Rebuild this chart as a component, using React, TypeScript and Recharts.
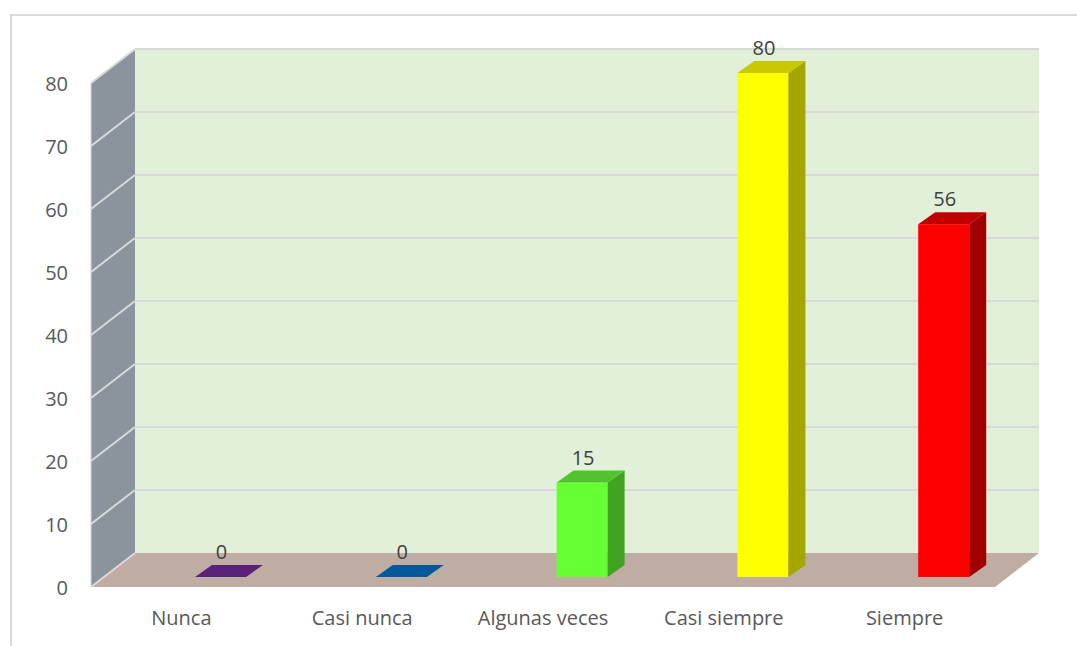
import React from 'react';
import { BarChart, Bar, XAxis, YAxis, ReferenceArea, LabelList } from 'recharts';

const categories = ['Nunca', 'Casi nunca', 'Algunas veces', 'Casi siempre', 'Siempre'];
const values = [0, 0, 15, 80, 56];
const yTicks = [0, 10, 20, 30, 40, 50, 60, 70, 80];
const frontColors = ['#5b2279', '#005a9c', '#66ff33', '#ffff00', '#ff0000'];
const topColors = ['#5b2279', '#005a9c', '#52c42b', '#c8c800', '#c00000'];
const sideColors = ['#4a1b63', '#004a80', '#42a322', '#a6a600', '#a00000'];

const data = categories.map((name, i) => ({ name, value: values[i] }));

const DEPTH_X = 44;
const DEPTH_Y = 34;
const BAR_DX = 39;
const BAR_DY = 10;
const BAR_DEPTH_X = 17;
const BAR_DEPTH_Y = 12;
const FONT = '"Open Sans", "Noto Sans", sans-serif';
const TEXT = '#595959';

const Walls = (props: any) => {
  const { x, y, width, height } = props;
  const b = y + height;
  return (
    <g>
      <rect x={x + DEPTH_X} y={y - DEPTH_Y} width={width} height={height} fill="#e2efd9" />
      <polygon
        points={`${x},${y} ${x + DEPTH_X},${y - DEPTH_Y} ${x + DEPTH_X},${b - DEPTH_Y} ${x},${b}`}
        fill="#8b949c"
      />
      <polygon
        points={`${x},${b} ${x + DEPTH_X},${b - DEPTH_Y} ${x + width + DEPTH_X},${b - DEPTH_Y} ${x + width},${b}`}
        fill="#bfada4"
      />
      <line x1={x} y1={y} x2={x} y2={b} stroke="#d9d9d9" strokeWidth={1} />
    </g>
  );
};

const makeGridLine = (isFloor: boolean) => (props: any) => {
  const { x, y, width } = props;
  return (
    <g>
      {!isFloor && (
        <line x1={x + DEPTH_X} y1={y - DEPTH_Y} x2={x + width + DEPTH_X} y2={y - DEPTH_Y} stroke="#d9d9d9" strokeWidth={2} />
      )}
      <line x1={x} y1={y} x2={x + DEPTH_X} y2={y - DEPTH_Y} stroke="#d9d9d9" strokeWidth={2} />
    </g>
  );
};

const Bar3D = (props: any) => {
  const { x, y, width, height, index } = props;
  const fx = x + BAR_DX;
  const fy = y - BAR_DY;
  const h = Math.max(0, height);
  const w = width;
  return (
    <g>
      {h > 0 && <rect x={fx} y={fy} width={w} height={h} fill={frontColors[index]} />}
      {h > 0 && (
        <polygon
          points={`${fx + w},${fy} ${fx + w + BAR_DEPTH_X},${fy - BAR_DEPTH_Y} ${fx + w + BAR_DEPTH_X},${fy + h - BAR_DEPTH_Y} ${fx + w},${fy + h}`}
          fill={sideColors[index]}
        />
      )}
      <polygon
        points={`${fx},${fy} ${fx + w},${fy} ${fx + w + BAR_DEPTH_X},${fy - BAR_DEPTH_Y} ${fx + BAR_DEPTH_X},${fy - BAR_DEPTH_Y}`}
        fill={topColors[index]}
      />
    </g>
  );
};

const renderLabel = (props: any) => {
  const vb = props.viewBox || {};
  const x = props.x ?? vb.x;
  const y = props.y ?? vb.y;
  const width = props.width ?? vb.width;
  return (
    <text
      x={x + width / 2 + BAR_DX + 1}
      y={y - BAR_DY - 18}
      textAnchor="middle"
      fill="#404040"
      fontSize={20}
      fontFamily={FONT}
    >
      {props.value}
    </text>
  );
};

const YTick = (props: any) => (
  <text x={props.x - 23} y={props.y + 8} textAnchor="end" fill={TEXT} fontSize={20} fontFamily={FONT}>
    {props.payload.value}
  </text>
);

const XTick = (props: any) => (
  <text x={props.x} y={props.y + 38} textAnchor="middle" fill={TEXT} fontSize={20} fontFamily={FONT}>
    {props.payload.value}
  </text>
);

export default function App() {
  return (
    <div style={{ position: 'absolute', left: 0, top: 0, width: 1077, height: 646, background: '#fff', overflow: 'hidden' }}>
      <div
        style={{
          position: 'absolute',
          left: 10,
          top: 14,
          width: 1100,
          height: 700,
          border: '2px solid #d9d9d9',
          boxSizing: 'border-box',
        }}
      />
      <div style={{ position: 'absolute', left: 0, top: 0 }}>
        <BarChart width={1077} height={646} data={data} margin={{ top: 83, right: 82, left: 31, bottom: 29 }}>
          <ReferenceArea y1={0} y2={80} shape={Walls} ifOverflow="visible" />
          {yTicks.map((t) => (
            <ReferenceArea key={t} y1={t} y2={t} ifOverflow="visible" shape={makeGridLine(t === 0)} />
          ))}
          <XAxis dataKey="name" axisLine={false} tickLine={false} tickSize={0} tickMargin={0} height={30} tick={XTick} interval={0} />
          <YAxis
            domain={[0, 80]}
            ticks={yTicks}
            axisLine={false}
            tickLine={false}
            tickSize={0}
            tickMargin={0}
            width={60}
            tick={YTick}
            interval={0}
          />
          <Bar dataKey="value" barSize={51} shape={Bar3D} isAnimationActive={false}>
            <LabelList dataKey="value" content={renderLabel} />
          </Bar>
        </BarChart>
      </div>
    </div>
  );
}
